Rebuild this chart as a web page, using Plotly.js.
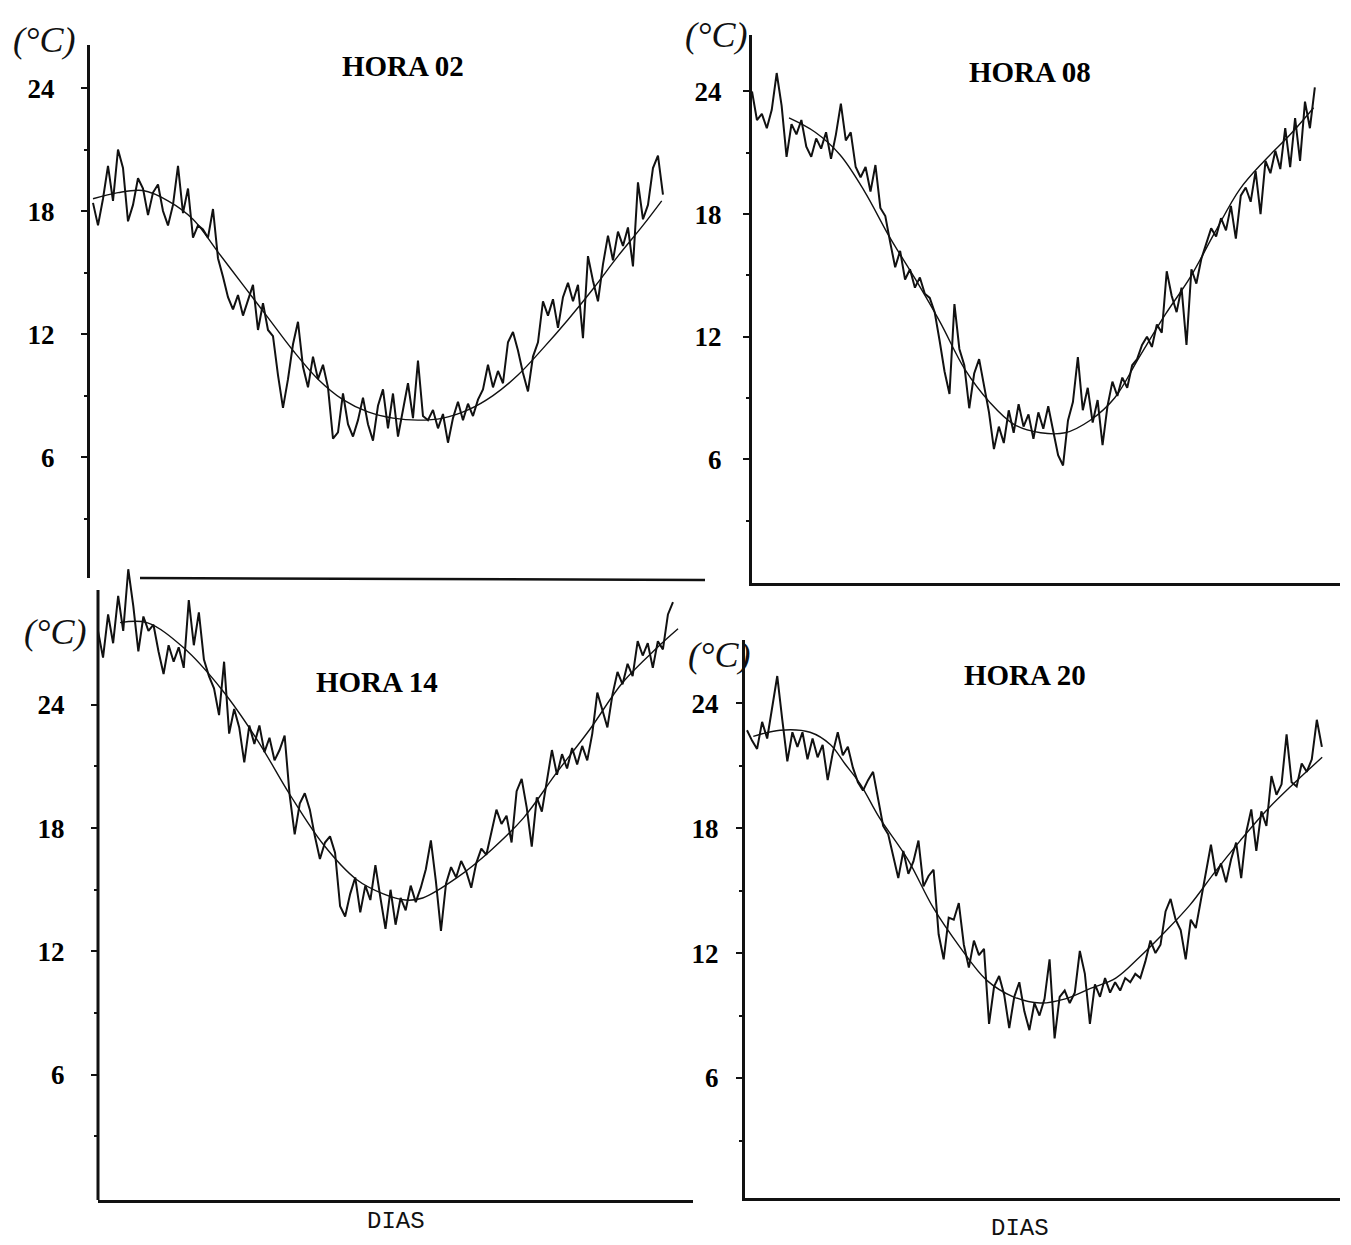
<!DOCTYPE html>
<html>
<head>
<meta charset="utf-8">
<script src="https://cdn.plot.ly/plotly-3.0.1.min.js"></script>
<style>html,body{margin:0;padding:0;background:#fff;}#chart{width:1351px;height:1245px;}</style>
</head>
<body>
<div id="chart"></div>
<script>
// ---------- DATA ----------
const panelTitles = ["HORA 02", "HORA 08", "HORA 14", "HORA 20"];
const unitLabel = "(°C)";
const xLabel = "DIAS";
const yTickVals = [6, 12, 18, 24];
const yTickText = ["6", "12", "18", "24"];
const yMinorVals = [3, 9, 15, 21];
const DAY_STEP = 3.2; // spacing (days) between the sampled daily readings

// HORA 02 daily readings (°C)
const hora02 = [18.4,17.3,18.6,20.2,18.5,21.0,20.1,17.5,18.3,19.6,
19.1,17.8,18.9,19.3,18.0,17.3,18.3,20.2,17.9,19.1,
16.7,17.3,17.1,16.7,18.1,15.7,14.8,13.8,13.2,13.9,
12.9,13.6,14.4,12.2,13.5,12.2,11.9,10.0,8.4,9.8,
11.5,12.6,10.4,9.4,10.9,9.8,10.5,9.4,6.9,7.2,
9.1,7.6,7.0,7.8,8.9,7.6,6.8,8.5,9.3,7.4,
9.1,7.0,8.3,9.6,7.9,10.7,8.0,7.8,8.3,7.4,
8.1,6.7,7.9,8.7,7.8,8.6,8.0,8.8,9.3,10.5,
9.4,10.2,9.6,11.6,12.1,11.2,10.1,9.2,10.9,11.6,
13.6,12.9,13.7,12.3,13.8,14.5,13.6,14.4,11.8,15.8,
14.6,13.6,15.4,16.8,15.6,17.0,16.3,17.2,15.3,19.4,
17.6,18.3,20.1,20.7,18.8];
const hora02FitDays = [0,16,32,48,64,80,96,112,128,144,160,176,192,208,224,240,256,272,288,304,320,336,352,364];
const hora02Fit = [18.6,18.9,19.0,18.5,17.6,16.0,14.4,12.8,11.2,9.8,8.8,8.2,7.9,7.8,7.9,8.3,9.0,10.0,11.3,12.7,14.2,15.8,17.3,18.5];

// HORA 08 daily readings (°C)
const hora08 = [24.0,22.6,22.9,22.2,23.1,24.9,23.3,20.8,22.4,21.9,
22.6,21.3,20.8,21.7,21.2,22.0,20.7,21.9,23.4,21.6,
22.0,20.3,19.8,20.3,19.1,20.4,18.3,17.9,16.6,15.4,
16.2,14.8,15.3,14.4,14.9,14.1,13.9,13.2,11.8,10.3,
9.2,13.6,11.4,10.6,8.5,10.2,10.9,9.6,8.3,6.5,
7.6,6.8,8.4,7.3,8.7,7.6,8.2,7.0,8.3,7.5,
8.6,7.4,6.2,5.7,7.9,8.8,11.0,8.4,9.5,7.8,
8.9,6.7,8.6,9.8,9.1,10.0,9.5,10.6,10.9,11.6,
12.0,11.5,12.6,12.2,15.2,14.0,13.2,14.4,11.6,15.3,
14.6,15.8,16.5,17.3,16.9,17.8,17.2,18.4,16.8,18.9,
19.3,18.6,20.1,18.0,20.6,20.0,21.1,20.2,22.2,20.3,
22.7,20.6,23.5,22.2,24.2];
const hora08FitDays = [24,41,57,73,89,106,122,138,154,170,187,203,219,235,251,268,284,300,316,332,349,364];
const hora08Fit = [22.7,22.0,20.9,19.1,16.9,14.8,12.7,10.4,8.8,7.7,7.3,7.3,7.9,9.0,11.0,13.1,14.9,17.1,19.2,20.6,21.9,23.2];

// HORA 14 daily readings (°C)
const hora14 = [27.6,26.3,28.4,27.0,29.3,27.6,30.6,28.8,26.6,28.3,
27.6,27.9,26.6,25.5,26.9,26.1,26.8,25.8,29.1,26.9,
28.5,26.2,25.4,24.8,23.5,26.1,22.6,23.8,22.9,21.2,
23.0,22.1,23.0,21.7,22.4,21.3,21.8,22.5,19.6,17.7,
19.2,19.7,18.9,17.6,16.5,17.3,17.6,16.8,14.2,13.7,
14.8,15.6,13.9,15.2,14.5,16.2,14.6,13.1,15.0,13.3,
14.6,14.0,15.2,14.4,15.1,16.0,17.4,15.4,13.0,15.3,
16.1,15.6,16.4,15.9,15.1,16.3,17.0,16.7,17.8,18.9,
18.2,18.6,17.3,19.8,20.4,19.0,17.1,19.5,18.8,20.2,
21.8,20.6,21.6,20.9,21.9,21.1,22.0,21.3,22.6,24.6,
23.8,22.9,24.5,25.6,25.0,26.0,25.4,27.1,26.4,27.0,
25.8,27.1,26.7,28.4,29.0];
const hora14FitDays = [14,31,54,79,101,122,143,164,181,195,206,228,249,270,291,312,333,355,368];
const hora14Fit = [28.0,28.0,26.8,24.7,22.3,19.6,17.2,15.5,14.8,14.5,14.6,15.6,16.9,18.5,20.7,22.8,25.1,26.8,27.7];

// HORA 20 daily readings (°C)
const hora20 = [22.7,22.2,21.8,23.1,22.3,23.9,25.3,23.2,21.2,22.6,
21.9,22.6,21.3,22.3,21.4,22.0,20.3,21.6,22.6,21.5,
21.9,20.9,20.2,19.8,20.3,20.7,19.4,18.1,17.7,16.6,
15.6,16.9,15.8,16.4,17.4,15.2,15.7,16.0,12.9,11.7,
13.7,13.6,14.4,12.4,11.3,12.6,11.9,12.2,8.6,10.4,
10.9,10.0,8.4,9.9,10.6,9.2,8.3,9.6,9.0,9.8,
11.7,7.9,9.9,10.2,9.6,10.1,12.1,11.0,8.6,10.5,
9.9,10.8,10.1,10.6,10.2,10.8,10.6,11.0,10.8,11.6,
12.6,12.0,12.4,14.0,14.6,13.6,13.1,11.7,13.6,13.2,
14.6,16.0,17.2,15.7,16.3,15.4,16.5,17.3,15.6,17.8,
18.9,16.9,18.8,18.1,20.5,19.6,20.1,22.5,20.2,20.0,
21.1,20.7,21.3,23.2,21.9];
const hora20FitDays = [4,21,40,53,62,72,84,102,118,135,152,169,186,202,218,234,249,265,281,297,313,329,345,365];
const hora20Fit = [22.4,22.7,22.6,22.0,21.1,20.1,18.5,16.5,14.2,12.3,10.7,9.9,9.6,9.8,10.3,10.8,11.8,13.0,14.3,15.9,17.4,18.8,20.0,21.4];

// ---------- BUILD ----------
const W = 1351, H = 1245;
const INK = '#111';
const dayIndex = arr => arr.map((_, i) => i * DAY_STEP);

const series = [
  {obs: hora02, fitD: hora02FitDays, fit: hora02Fit},
  {obs: hora08, fitD: hora08FitDays, fit: hora08Fit},
  {obs: hora14, fitD: hora14FitDays, fit: hora14Fit},
  {obs: hora20, fitD: hora20FitDays, fit: hora20Fit}
];

const traces = [];
series.forEach((s, k) => {
  const sfx = k === 0 ? '' : String(k + 1);
  traces.push({x: dayIndex(s.obs), y: s.obs, type: 'scatter', mode: 'lines',
    line: {color: INK, width: 2}, xaxis: 'x' + sfx, yaxis: 'y' + sfx, hoverinfo: 'skip'});
  traces.push({x: s.fitD, y: s.fit, type: 'scatter', mode: 'lines',
    line: {color: INK, width: 1.4, shape: 'spline', smoothing: 1}, xaxis: 'x' + sfx, yaxis: 'y' + sfx, hoverinfo: 'skip'});
});

function mkX(x0, x1, range, showline, anchor) {
  return {domain: [x0 / W, x1 / W], range: range, anchor: anchor, showgrid: false, zeroline: false,
    showticklabels: false, ticks: '', showline: showline, linecolor: INK, linewidth: 2.5, fixedrange: true};
}
function mkY(top, bottom, range, standoff, showline, anchor) {
  return {domain: [1 - bottom / H, 1 - top / H], range: range, anchor: anchor,
    tickmode: 'array', tickvals: yTickVals, ticktext: yTickText,
    ticks: 'outside', ticklen: 6, tickwidth: 2, tickcolor: INK,
    showline: showline, linecolor: INK, linewidth: 3,
    showgrid: false, zeroline: false, fixedrange: true,
    ticklabelstandoff: standoff,
    tickfont: {family: 'Liberation Serif, Times New Roman, serif', size: 27, color: '#000', weight: 'bold'},
    minor: {tickmode: 'array', tickvals: yMinorVals, ticks: 'outside', ticklen: 3, tickwidth: 2, tickcolor: INK, showgrid: false}};
}

const layout = {
  width: W, height: H, autosize: false,
  margin: {l: 0, r: 0, t: 0, b: 0, pad: 0},
  paper_bgcolor: '#fff', plot_bgcolor: 'rgba(0,0,0,0)',
  showlegend: false,
  xaxis:  mkX(90, 705, [-1.92, 391.7], false, 'y'),
  yaxis:  mkY(45, 578, [0.1, 26.1], 21, true, 'x'),
  xaxis2: mkX(752, 1340, [0, 381.1], true, 'y2'),
  yaxis2: mkY(35, 583, [-0.05, 26.76], 16, true, 'x2'),
  xaxis3: mkX(98, 693, [0, 377.5], true, 'y3'),
  yaxis3: mkY(560, 1200, [-0.1, 31.05], 21, false, 'x3'),
  xaxis4: mkX(745, 1340, [-1.27, 376.3], true, 'y4'),
  yaxis4: mkY(640, 1198, [0.24, 27.03], 12, true, 'x4'),
  shapes: [
    {type: 'line', xref: 'paper', yref: 'paper', x0: 140 / W, x1: 705 / W, y0: 1 - 578 / H, y1: 1 - 580 / H, line: {color: INK, width: 2.5}},
    {type: 'line', xref: 'paper', yref: 'paper', x0: 98 / W, x1: 98 / W, y0: 1 - 1200 / H, y1: 1 - 590 / H, line: {color: INK, width: 3}}
  ],
  annotations: []
};

const titlePos = [[403, 66], [1030, 72], [377, 682], [1025, 675]];
titlePos.forEach((p, k) => layout.annotations.push({
  text: panelTitles[k], xref: 'paper', yref: 'paper', x: p[0] / W, y: 1 - p[1] / H,
  xanchor: 'center', yanchor: 'middle', showarrow: false,
  font: {family: 'Liberation Serif, Times New Roman, serif', size: 29, color: '#000', weight: 'bold'}
}));
const unitPos = [[44, 40], [716, 35], [55, 632], [719, 655]];
unitPos.forEach(p => layout.annotations.push({
  text: unitLabel, xref: 'paper', yref: 'paper', x: p[0] / W, y: 1 - p[1] / H,
  xanchor: 'center', yanchor: 'middle', showarrow: false,
  font: {family: 'Liberation Serif, serif', size: 36, color: INK, style: 'italic'}
}));
const xlabPos = [[396, 1221], [1020, 1228]];
xlabPos.forEach(p => layout.annotations.push({
  text: xLabel, xref: 'paper', yref: 'paper', x: p[0] / W, y: 1 - p[1] / H,
  xanchor: 'center', yanchor: 'middle', showarrow: false,
  font: {family: 'Liberation Mono, DejaVu Sans Mono, monospace', size: 24, color: INK}
}));

Plotly.newPlot('chart', traces, layout, {staticPlot: true, displayModeBar: false});
</script>
</body>
</html>
